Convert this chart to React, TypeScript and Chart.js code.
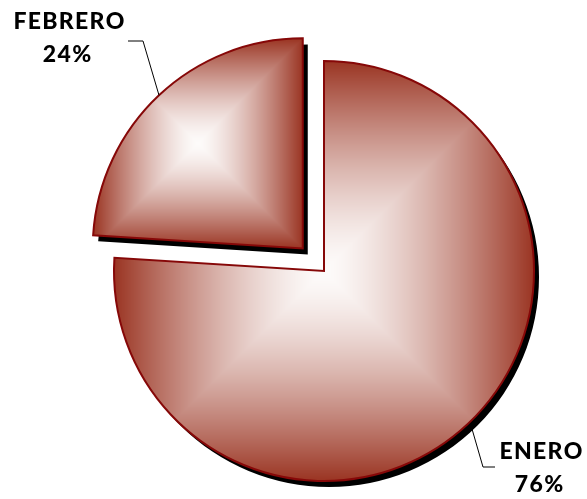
import React, { useEffect, useRef } from 'react';
import { Chart, registerables } from 'chart.js';

Chart.register(...registerables);

// ---- data ----
const categories: string[] = ['ENERO', 'FEBRERO'];
const values: number[] = [76, 24];
const percentLabels: string[] = ['76%', '24%'];
const explodedIndex = 1; // FEBRERO is pulled out

// ---- style ----
const EDGE = [154, 52, 34];
const CENTER = [253, 251, 250];
const BORDER = '#860808';
const EXPLODE_PX = 31;
const SHADOW_DX = 5;
const SHADOW_DY = 6;
const FONT = '900 23px Lato, "Open Sans", sans-serif';
const LETTER_SPACING = 1.3;

// label layout (canvas px): text centre x, first baseline y, leader elbow and end
const labelLayout = [
  { tx: 541, ty: 459, elbow: [483, 467], end: [495, 467], rExtra: 6 },
  { tx: 69, ty: 29, elbow: [143, 41], end: [128, 41], rExtra: 0 },
];

function arcGeom(el: any) {
  const p = el.getProps(['x', 'y', 'startAngle', 'endAngle', 'outerRadius'], true);
  const off = ((el.options && el.options.offset) || 0) / 4;
  const half = (p.startAngle + p.endAngle) / 2;
  return {
    x: p.x + Math.cos(half) * off,
    y: p.y + Math.sin(half) * off,
    r: p.outerRadius,
    a0: p.startAngle,
    a1: p.endAngle,
    half,
  };
}

function slicePath(ctx: CanvasRenderingContext2D, g: any, dx = 0, dy = 0) {
  ctx.beginPath();
  ctx.moveTo(g.x + dx, g.y + dy);
  ctx.arc(g.x + dx, g.y + dy, g.r, g.a0, g.a1);
  ctx.closePath();
}

function sliceBox(g: any) {
  const pts: number[][] = [
    [g.x, g.y],
    [g.x + g.r * Math.cos(g.a0), g.y + g.r * Math.sin(g.a0)],
    [g.x + g.r * Math.cos(g.a1), g.y + g.r * Math.sin(g.a1)],
  ];
  const k0 = Math.ceil(g.a0 / (Math.PI / 2));
  for (let k = k0; k * (Math.PI / 2) <= g.a1; k++) {
    const a = k * (Math.PI / 2);
    pts.push([g.x + g.r * Math.cos(a), g.y + g.r * Math.sin(a)]);
  }
  const xs = pts.map((p) => p[0]);
  const ys = pts.map((p) => p[1]);
  return { minX: Math.min(...xs), maxX: Math.max(...xs), minY: Math.min(...ys), maxY: Math.max(...ys) };
}

function rectGradientCanvas(b: any) {
  const x0 = Math.floor(b.minX) - 2;
  const y0 = Math.floor(b.minY) - 2;
  const w = Math.ceil(b.maxX) + 2 - x0;
  const h = Math.ceil(b.maxY) + 2 - y0;
  const off = document.createElement('canvas');
  off.width = w;
  off.height = h;
  const octx = off.getContext('2d') as CanvasRenderingContext2D;
  const img = octx.createImageData(w, h);
  const cx = (b.minX + b.maxX) / 2;
  const cy = (b.minY + b.maxY) / 2;
  const hw = (b.maxX - b.minX) / 2;
  const hh = (b.maxY - b.minY) / 2;
  for (let j = 0; j < h; j++) {
    for (let i = 0; i < w; i++) {
      const px = x0 + i + 0.5;
      const py = y0 + j + 0.5;
      const t = Math.min(1, Math.max(Math.abs(px - cx) / hw, Math.abs(py - cy) / hh));
      const s = Math.pow(t, 1.45);
      const k = (j * w + i) * 4;
      img.data[k] = CENTER[0] + (EDGE[0] - CENTER[0]) * s;
      img.data[k + 1] = CENTER[1] + (EDGE[1] - CENTER[1]) * s;
      img.data[k + 2] = CENTER[2] + (EDGE[2] - CENTER[2]) * s;
      img.data[k + 3] = 255;
    }
  }
  octx.putImageData(img, 0, 0);
  return { canvas: off, x0, y0 };
}

function spacedText(ctx: CanvasRenderingContext2D, text: string, cx: number, y: number) {
  const chars = Array.from(text);
  const widths = chars.map((c) => ctx.measureText(c).width);
  const total = widths.reduce((a, b) => a + b, 0) + LETTER_SPACING * (chars.length - 1);
  let x = cx - total / 2;
  ctx.textAlign = 'left';
  chars.forEach((c, i) => {
    ctx.fillText(c, x, y);
    x += widths[i] + LETTER_SPACING;
  });
}

const pieDecor = {
  id: 'pieDecor',
  beforeDatasetsDraw(chart: any) {
    const ctx: CanvasRenderingContext2D = chart.ctx;
    const meta = chart.getDatasetMeta(0);
    const geoms = meta.data.map((el: any) => arcGeom(el));
    ctx.save();
    ctx.fillStyle = '#000';
    for (const g of geoms) {
      slicePath(ctx, g, SHADOW_DX, SHADOW_DY);
      ctx.fill();
    }
    for (const g of geoms) {
      const grad = rectGradientCanvas(sliceBox(g));
      ctx.save();
      slicePath(ctx, g);
      ctx.clip();
      ctx.drawImage(grad.canvas, grad.x0, grad.y0);
      ctx.restore();
    }
    ctx.restore();
  },
  afterDatasetsDraw(chart: any) {
    const ctx: CanvasRenderingContext2D = chart.ctx;
    const meta = chart.getDatasetMeta(0);
    ctx.save();
    meta.data.forEach((el: any, i: number) => {
      const g = arcGeom(el);
      const L = labelLayout[i];
      const sx = g.x + Math.cos(g.half) * (g.r + L.rExtra);
      const sy = g.y + Math.sin(g.half) * (g.r + L.rExtra);
      ctx.beginPath();
      ctx.moveTo(sx, sy);
      ctx.lineTo(L.elbow[0], L.elbow[1]);
      ctx.lineTo(L.end[0], L.end[1]);
      ctx.strokeStyle = '#000';
      ctx.lineWidth = 1;
      ctx.stroke();
      ctx.fillStyle = '#000';
      ctx.font = FONT;
      ctx.textBaseline = 'alphabetic';
      spacedText(ctx, chart.data.labels[i], L.tx, L.ty);
      spacedText(ctx, percentLabels[i], L.tx - 2, L.ty + 33);
    });
    ctx.restore();
  },
};

export default function App() {
  const ref = useRef<HTMLCanvasElement | null>(null);
  useEffect(() => {
    if (!ref.current) return;
    const chart = new Chart(ref.current, {
      type: 'pie',
      data: {
        labels: categories,
        datasets: [
          {
            data: values,
            backgroundColor: 'rgba(0,0,0,0)',
            borderColor: BORDER,
            borderWidth: 2,
            borderJoinStyle: 'miter',
            offset: values.map((_, i) => (i === explodedIndex ? EXPLODE_PX * 4 : 0)),
            radius: 210,
          } as any,
        ],
      },
      options: {
        responsive: false,
        animation: false,
        events: [],
        layout: { padding: { left: 61, right: 0, top: 43, bottom: 0 } },
        plugins: {
          legend: { display: false },
          tooltip: { enabled: false },
        },
      },
      plugins: [pieDecor],
    });
    return () => chart.destroy();
  }, []);
  return (
    <div style={{ position: 'absolute', left: 0, top: 0, width: 587, height: 499, background: '#fff' }}>
      <canvas ref={ref} width={587} height={499} style={{ display: 'block' }} />
    </div>
  );
}
